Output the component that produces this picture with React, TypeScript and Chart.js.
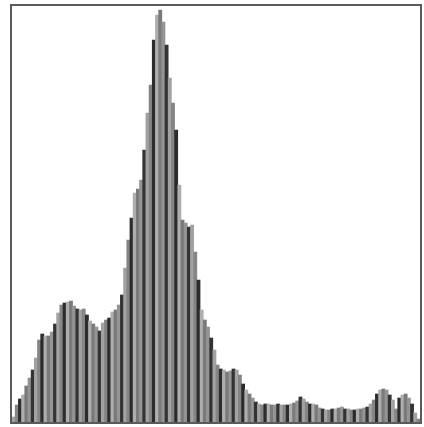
import React, { useEffect, useRef } from "react";
import { Chart, registerables } from "chart.js";

Chart.register(...registerables);

// Histogram bins (0..127) and counts
const bins: string[] = Array.from({ length: 128 }, (_, i) => String(i));
const counts: number[] = [
  5, 17, 23, 27, 36, 44, 52, 64, 82, 88,
  86, 86, 90, 98, 109, 117, 119, 120, 121, 116,
  113, 112, 113, 107, 101, 98, 95, 91, 99, 102,
  104, 110, 112, 117, 127, 154, 182, 204, 229, 233,
  242, 272, 309, 337, 382, 407, 412, 400, 377, 344,
  319, 292, 237, 202, 199, 195, 197, 170, 142, 112,
  102, 95, 84, 72, 57, 53, 52, 50, 51, 53,
  52, 47, 38, 32, 28, 24, 20, 18, 17, 18,
  18, 17, 17, 18, 17, 17, 17, 18, 19, 21,
  25, 23, 20, 18, 18, 17, 14, 13, 12, 12,
  13, 13, 14, 15, 13, 13, 12, 12, 13, 13,
  14, 15, 18, 22, 28, 32, 33, 32, 27, 22,
  13, 24, 27, 28, 24, 18, 9, 3,
];
const yMax = 416;

const shadeCycle = ["#a2a2a2", "#858585", "#2c2c2c", "#aeaeae", "#7a7a7a", "#949494", "#333333"];

export default function App() {
  const ref = useRef<HTMLCanvasElement | null>(null);
  useEffect(() => {
    if (!ref.current) return;
    const framePlugin = {
      id: "frame",
      afterDraw(chart: any) {
        const { ctx, chartArea } = chart;
        ctx.save();
        ctx.strokeStyle = "#5a5a5a";
        ctx.lineWidth = 2;
        ctx.strokeRect(chartArea.left - 1, chartArea.top - 1, chartArea.right - chartArea.left + 2, chartArea.bottom - chartArea.top + 2);
        ctx.restore();
      },
    };
    const chart = new Chart(ref.current, {
      type: "bar",
      data: {
        labels: bins,
        datasets: [
          {
            data: counts,
            backgroundColor: counts.map((_, i) => shadeCycle[i % shadeCycle.length]),
            borderWidth: 0,
            barPercentage: 1,
            categoryPercentage: 1,
          },
        ],
      },
      options: {
        responsive: false,
        animation: false,
        layout: { padding: { left: 12, right: 4, top: 6, bottom: 5 } },
        plugins: { legend: { display: false }, tooltip: { enabled: false } },
        scales: {
          x: { display: false },
          y: { display: false, min: 0, max: yMax },
        },
      },
      plugins: [framePlugin],
    });
    return () => chart.destroy();
  }, []);
  return (
    <div style={{ position: "absolute", left: 0, top: 0, width: 424, height: 427, background: "#fff" }}>
      <canvas ref={ref} width={424} height={427} style={{ display: "block" }} />
    </div>
  );
}
